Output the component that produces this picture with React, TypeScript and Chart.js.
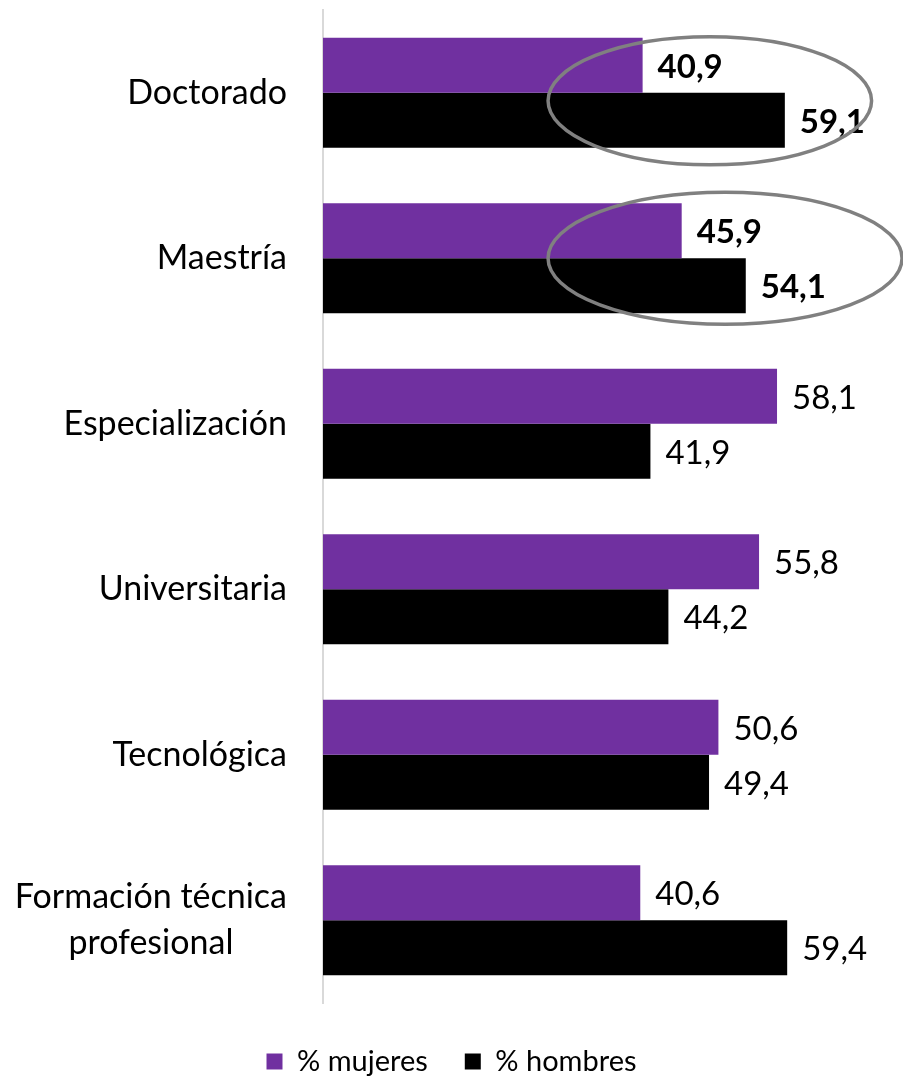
import React, { useEffect, useRef } from "react";
import { Chart, registerables } from "chart.js";

Chart.register(...registerables);

const categories: (string | string[])[] = [
  "Doctorado",
  "Maestría",
  "Especialización",
  "Universitaria",
  "Tecnológica",
  ["Formación técnica", "profesional"],
];
const mujeres = [40.9, 45.9, 58.1, 55.8, 50.6, 40.6];
const hombres = [59.1, 54.1, 41.9, 44.2, 49.4, 59.4];
const seriesNames = ["% mujeres", "% hombres"];
const highlighted = [0, 1];

const FONT = "Lato, 'Open Sans', sans-serif";

const fmt = (v: number) => v.toFixed(1).replace(".", ",");

const labelsPlugin = {
  id: "customLabels",
  afterDatasetsDraw(chart: any) {
    const ctx = chart.ctx;
    ctx.save();
    ctx.fillStyle = "#000";
    ctx.textBaseline = "middle";
    ctx.textAlign = "left";
    chart.data.datasets.forEach((ds: any, di: number) => {
      const meta = chart.getDatasetMeta(di);
      meta.data.forEach((bar: any, i: number) => {
        const bold = highlighted.includes(i);
        ctx.font = `${bold ? "bold " : ""}33px ${FONT}`;
        ctx.fillText(fmt(ds.data[i]), bar.x + 15, bar.y + 2);
      });
    });
    ctx.restore();
  },
  afterDraw(chart: any) {
    const ctx = chart.ctx;
    const y = chart.scales.y;
    const x = chart.scales.x;
    // category labels
    ctx.save();
    ctx.fillStyle = "#000";
    ctx.font = `34px ${FONT}`;
    ctx.textBaseline = "middle";
    const right = chart.chartArea.left - 36;
    const lineH = 46;
    chart.data.labels.forEach((lab: any, i: number) => {
      const cy = y.getPixelForTick(i);
      if (Array.isArray(lab)) {
        const w = Math.max(...lab.map((l: string) => ctx.measureText(l).width));
        const cx = right - w / 2;
        ctx.textAlign = "center";
        lab.forEach((l: string, k: number) => {
          ctx.fillText(l, cx, cy + (k - (lab.length - 1) / 2) * lineH);
        });
      } else {
        ctx.textAlign = "right";
        ctx.fillText(lab, right, cy);
      }
    });
    // highlight ellipses
    const ellipses = [
      { cat: 0, from: 28.8, to: 70.2, dy: 8, ry: 64 },
      { cat: 1, from: 28.8, to: 74.1, dy: 0, ry: 66 },
    ];
    ctx.strokeStyle = "#808080";
    ctx.lineWidth = 3.5;
    ellipses.forEach((e) => {
      const x0 = x.getPixelForValue(e.from);
      const x1 = x.getPixelForValue(e.to);
      const cy = y.getPixelForTick(e.cat) + e.dy;
      ctx.beginPath();
      ctx.ellipse((x0 + x1) / 2, cy, (x1 - x0) / 2, e.ry, 0, 0, Math.PI * 2);
      ctx.stroke();
    });
    ctx.restore();
  },
};

export default function App() {
  const ref = useRef<HTMLCanvasElement | null>(null);
  useEffect(() => {
    document.body.style.margin = "0";
    if (!ref.current) return;
    const chart = new Chart(ref.current, {
      type: "bar",
      data: {
        labels: categories as any,
        datasets: [
          {
            label: seriesNames[0],
            data: mujeres,
            backgroundColor: "#7030A0",
            borderWidth: 0,
            categoryPercentage: 0.664,
            barPercentage: 1,
          },
          {
            label: seriesNames[1],
            data: hombres,
            backgroundColor: "#000000",
            borderWidth: 0,
            categoryPercentage: 0.664,
            barPercentage: 1,
          },
        ],
      },
      options: {
        indexAxis: "y",
        responsive: false,
        animation: false,
        layout: { padding: { left: 0, top: 10, right: 0, bottom: -10 } },
        scales: {
          x: {
            display: true,
            min: 0,
            max: 74.22,
            grid: { display: false },
            ticks: { display: false },
            border: { display: false },
            afterFit: (s: any) => {
              s.height = 7;
            },
          },
          y: {
            display: true,
            grid: { display: false },
            ticks: { display: false },
            border: { display: true, color: "#d9d9d9", width: 2 },
            afterFit: (s: any) => {
              s.width = 323;
            },
          },
        },
        plugins: {
          legend: {
            position: "bottom",
            labels: {
              font: { family: FONT, size: 29 },
              color: "#000",
              boxWidth: 16,
              boxHeight: 16,
              padding: 37,
            },
          },
          tooltip: { enabled: false },
        },
      },
      plugins: [labelsPlugin],
    });
    return () => chart.destroy();
  }, []);
  return (
    <div style={{ width: 903, height: 1076 }}>
      <canvas ref={ref} width={903} height={1076} style={{ display: "block" }} />
    </div>
  );
}
